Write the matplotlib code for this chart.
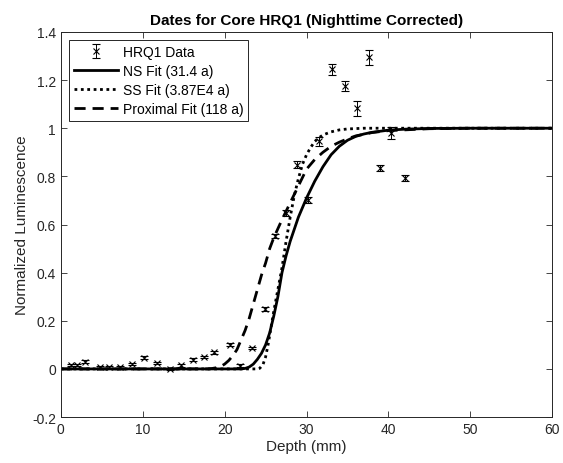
import numpy as np
import matplotlib
matplotlib.use("Agg")
import matplotlib.pyplot as plt
from matplotlib.ticker import FuncFormatter

plt.rcParams['font.family'] = ['Liberation Sans', 'DejaVu Sans']

# HRQ1 measurements: depth (mm), normalized luminescence, error
depth = [1.2, 2.0, 3.0, 4.8, 5.9, 7.2, 8.7, 10.2, 11.8, 13.3, 14.7, 16.1,
         17.5, 18.7, 20.6, 21.9, 23.4, 24.9, 26.2, 27.5, 28.8, 30.2, 31.5,
         33.1, 34.7, 36.2, 37.6, 39.0, 40.3, 42.0]
lum = [0.017, 0.017, 0.030, 0.007, 0.007, 0.007, 0.020, 0.046, 0.025, 0.000,
       0.015, 0.039, 0.049, 0.069, 0.100, 0.014, 0.087, 0.250, 0.552, 0.649,
       0.849, 0.703, 0.946, 1.245, 1.176, 1.082, 1.294, 0.834, 0.982, 0.792]
err = [0.005, 0.005, 0.006, 0.004, 0.004, 0.004, 0.005, 0.006, 0.005, 0.004,
       0.005, 0.005, 0.005, 0.006, 0.006, 0.005, 0.006, 0.008, 0.010, 0.012,
       0.016, 0.012, 0.018, 0.022, 0.020, 0.030, 0.030, 0.012, 0.025, 0.012]

# NS fit (31.4 a)
ns_x = [0, 22.0, 22.5, 23.0, 23.5, 24.0, 24.5, 25.0, 25.5, 26.0, 26.5, 27.0,
        27.5, 28.0, 28.5, 29.0, 29.5, 30.0, 31.0, 32.0, 33.0, 34.0, 35.0,
        36.0, 37.0, 38.0, 40.0, 42.0, 45.0, 50.0, 60.0]
ns_y = [0, 0.0, 0.002, 0.008, 0.02, 0.04, 0.065, 0.10, 0.15, 0.22, 0.30, 0.40,
        0.47, 0.53, 0.58, 0.63, 0.67, 0.71, 0.78, 0.84, 0.89, 0.925, 0.95,
        0.966, 0.976, 0.983, 0.992, 0.996, 0.999, 1.0, 1.0]

# SS fit (3.87E4 a)
ss_x = [0, 24.0, 24.3, 24.7, 25.0, 25.3, 25.6, 26.0, 26.5, 27.0, 27.5, 28.0,
        28.5, 29.0, 29.5, 30.0, 30.5, 31.0, 31.5, 32.0, 33.0, 34.0, 35.0,
        37.0, 60.0]
ss_y = [0, 0.0, 0.003, 0.02, 0.05, 0.10, 0.16, 0.24, 0.33, 0.42, 0.53, 0.63,
        0.72, 0.79, 0.85, 0.89, 0.92, 0.945, 0.96, 0.972, 0.985, 0.993, 0.997,
        1.0, 1.0]

# Proximal fit (118 a)
px_x = [0, 18.0, 18.5, 19.0, 19.5, 20.0, 20.5, 21.0, 21.5, 22.0, 22.5, 23.0,
        23.5, 24.0, 24.5, 25.0, 25.5, 26.0, 27.0, 28.0, 29.0, 30.0, 31.0,
        32.0, 33.0, 34.0, 35.0, 36.0, 38.0, 40.0, 45.0, 50.0, 60.0]
px_y = [0, 0.0, 0.002, 0.005, 0.01, 0.02, 0.035, 0.055, 0.08, 0.12, 0.16, 0.21,
        0.27, 0.33, 0.39, 0.44, 0.50, 0.545, 0.62, 0.69, 0.76, 0.83, 0.87,
        0.90, 0.925, 0.942, 0.956, 0.968, 0.982, 0.99, 0.998, 1.0, 1.0]

fig = plt.figure(figsize=(5.63, 4.64), dpi=100)
ax = fig.add_axes([0.108, 0.099, 0.873, 0.83])

h_data = ax.errorbar(depth, lum, yerr=err, fmt='x', color='black', ms=4,
                     mew=0.8, elinewidth=0.7, capsize=3, capthick=0.7,
                     label='HRQ1 Data')
h_ns, = ax.plot(ns_x, ns_y, color='black', lw=2, label='NS Fit (31.4 a)')
h_ss, = ax.plot(ss_x, ss_y, color='black', lw=2, ls=(0, (1, 1.3)),
                label='SS Fit (3.87E4 a)')
h_px, = ax.plot(px_x, px_y, color='black', lw=2, ls=(0, (4, 2.5)),
                label='Proximal Fit (118 a)')

ax.set_xlim(0, 60)
ax.set_ylim(-0.2, 1.4)
ax.set_xticks(np.arange(0, 61, 10))
ax.set_yticks(np.arange(-0.2, 1.41, 0.2))
ax.yaxis.set_major_formatter(
    FuncFormatter(lambda v, p: f"{v:g}" if abs(v) > 1e-9 else "0"))
ax.tick_params(direction='in', top=True, right=True, labelsize=10,
               length=4, width=0.6, colors='#262626')
for s in ax.spines.values():
    s.set_linewidth(0.7)
    s.set_color('#262626')

ax.set_xlabel('Depth (mm)', fontsize=11, color='#262626', labelpad=2)
ax.set_ylabel('Normalized Luminescence', fontsize=11, color='#262626',
              labelpad=2)
ax.set_title('Dates for Core HRQ1 (Nighttime Corrected)', fontsize=11,
             fontweight='bold', pad=6)

leg = ax.legend([h_data, h_ns, h_ss, h_px],
                ['HRQ1 Data', 'NS Fit (31.4 a)', 'SS Fit (3.87E4 a)',
                 'Proximal Fit (118 a)'],
                loc='upper left', fontsize=10, frameon=True, fancybox=False,
                edgecolor='#262626', framealpha=1, borderpad=0.35,
                labelspacing=0.35, handlelength=3.2, handletextpad=0.3,
                borderaxespad=0.6)
leg.get_frame().set_linewidth(0.7)

fig.savefig('out.png', dpi=100)
